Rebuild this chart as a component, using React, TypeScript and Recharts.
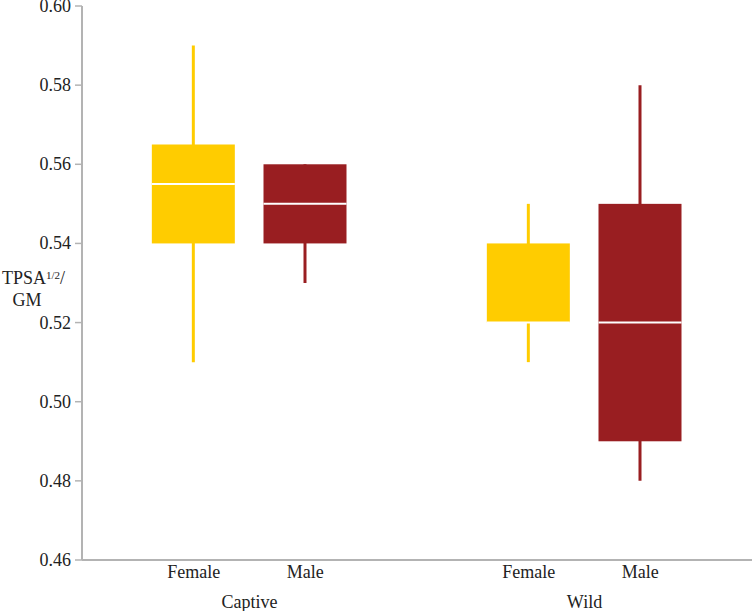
import React from 'react';
import { ComposedChart, Bar, XAxis, YAxis, Cell } from 'recharts';

// ---- data ----
const groupNames = ['Captive', 'Wild'];
const sexNames = ['Female', 'Male'];
const seriesColors = ['#FFCC00', '#991E21'];
// per box, order: Captive-Female, Captive-Male, Wild-Female, Wild-Male
const boxGroup = [0, 0, 1, 1];
const boxSex = [0, 1, 0, 1];
const whiskerMin = [0.51, 0.53, 0.51, 0.48];
const quartile1 = [0.54, 0.54, 0.52, 0.49];
const medians = [0.555, 0.55, 0.52, 0.52];
const quartile3 = [0.565, 0.56, 0.54, 0.55];
const whiskerMax = [0.59, 0.56, 0.55, 0.58];
const yTicks = [0.46, 0.48, 0.5, 0.52, 0.54, 0.56, 0.58, 0.6];

const FONT = 'Liberation Serif, Times New Roman, DejaVu Serif, serif';
const AXIS = '#b3b3b3';

const data = boxGroup.map((g, i) => ({
  x: g * 3 + boxSex[i] + 1,
  group: g,
  sex: boxSex[i],
  min: whiskerMin[i],
  q1: quartile1[i],
  median: medians[i],
  q3: quartile3[i],
  max: whiskerMax[i],
}));

const xTicks: number[] = [];
const xTickLabel: Record<string, { text: string; level: number }> = {};
groupNames.forEach((gName, g) => {
  sexNames.forEach((s, si) => {
    const v = g * 3 + si + 1;
    xTicks.push(v);
    xTickLabel[String(v)] = { text: s, level: 0 };
  });
  const mid = g * 3 + 1.5;
  xTicks.push(mid);
  xTickLabel[String(mid)] = { text: gName, level: 1 };
});
xTicks.sort((a, b) => a - b);

const XTick = (props: any) => {
  const { x, y, payload } = props;
  const info = xTickLabel[String(payload.value)];
  if (!info) return null;
  return (
    <text
      x={x}
      y={info.level === 0 ? y + 16 : y + 46}
      textAnchor="middle"
      style={{ fontFamily: FONT, fontSize: 18 }}
      fill="#222"
    >
      {info.text}
    </text>
  );
};

const YTick = (props: any) => {
  const { x, y, payload } = props;
  return (
    <text
      x={x}
      y={y + 6}
      textAnchor="end"
      style={{ fontFamily: FONT, fontSize: 18 }}
      fill="#222"
    >
      {Number(payload.value).toFixed(2)}
    </text>
  );
};

const BoxShape = (props: any) => {
  const { x, y, width, height, payload, fill } = props;
  const top = Math.min(y, y + height);
  const h = Math.abs(height);
  const span = payload.q3 - payload.q1;
  const my = top + ((payload.q3 - payload.median) / span) * h;
  return (
    <g>
      <rect x={x} y={top} width={width} height={h} fill={fill} />
      <line x1={x} x2={x + width} y1={my} y2={my} stroke="#ffffff" strokeWidth={2} />
    </g>
  );
};

const YLabel = () => (
  <g style={{ fontFamily: FONT }} fill="#222">
    <text x={2} y={284} style={{ fontFamily: FONT, fontSize: 18 }}>
      TPSA
      <tspan style={{ fontSize: 11 }} dy={-5}>1/2</tspan>
      <tspan style={{ fontSize: 18 }} dy={5}>/</tspan>
    </text>
    <text x={27} y={306} style={{ fontFamily: FONT, fontSize: 18 }} textAnchor="middle">
      GM
    </text>
  </g>
);

export default function App() {
  return (
    <div style={{ position: 'absolute', left: 0, top: 0, background: '#fff', fontFamily: FONT }}>
      <ComposedChart
        width={753}
        height={611}
        data={data}
        margin={{ top: 6, right: 1, left: 0, bottom: 0 }}
      >
        <XAxis
          dataKey="x"
          type="number"
          domain={[0, 6]}
          ticks={xTicks}
          interval={0}
          tickLine={false}
          tickSize={0}
          tick={<XTick />}
          axisLine={{ stroke: AXIS, strokeWidth: 2 }}
          height={51}
        />
        <XAxis xAxisId="w" dataKey="x" type="number" domain={[0, 6]} hide />
        <YAxis
          type="number"
          domain={[0.46, 0.6]}
          ticks={yTicks}
          interval={0}
          width={82}
          tickSize={7}
          tickMargin={4}
          tick={<YTick />}
          tickLine={{ stroke: AXIS, strokeWidth: 1.5 }}
          axisLine={{ stroke: AXIS, strokeWidth: 2 }}
          label={{ content: () => <YLabel /> }}
        />
        <Bar
          xAxisId="w"
          dataKey={(d: any) => [d.min, d.max]}
          barSize={3}
          isAnimationActive={false}
        >
          {data.map((d, i) => (
            <Cell key={`w${i}`} fill={seriesColors[d.sex]} />
          ))}
        </Bar>
        <Bar
          dataKey={(d: any) => [d.q1, d.q3]}
          barSize={83}
          shape={<BoxShape />}
          isAnimationActive={false}
        >
          {data.map((d, i) => (
            <Cell key={`b${i}`} fill={seriesColors[d.sex]} />
          ))}
        </Bar>
      </ComposedChart>
    </div>
  );
}
